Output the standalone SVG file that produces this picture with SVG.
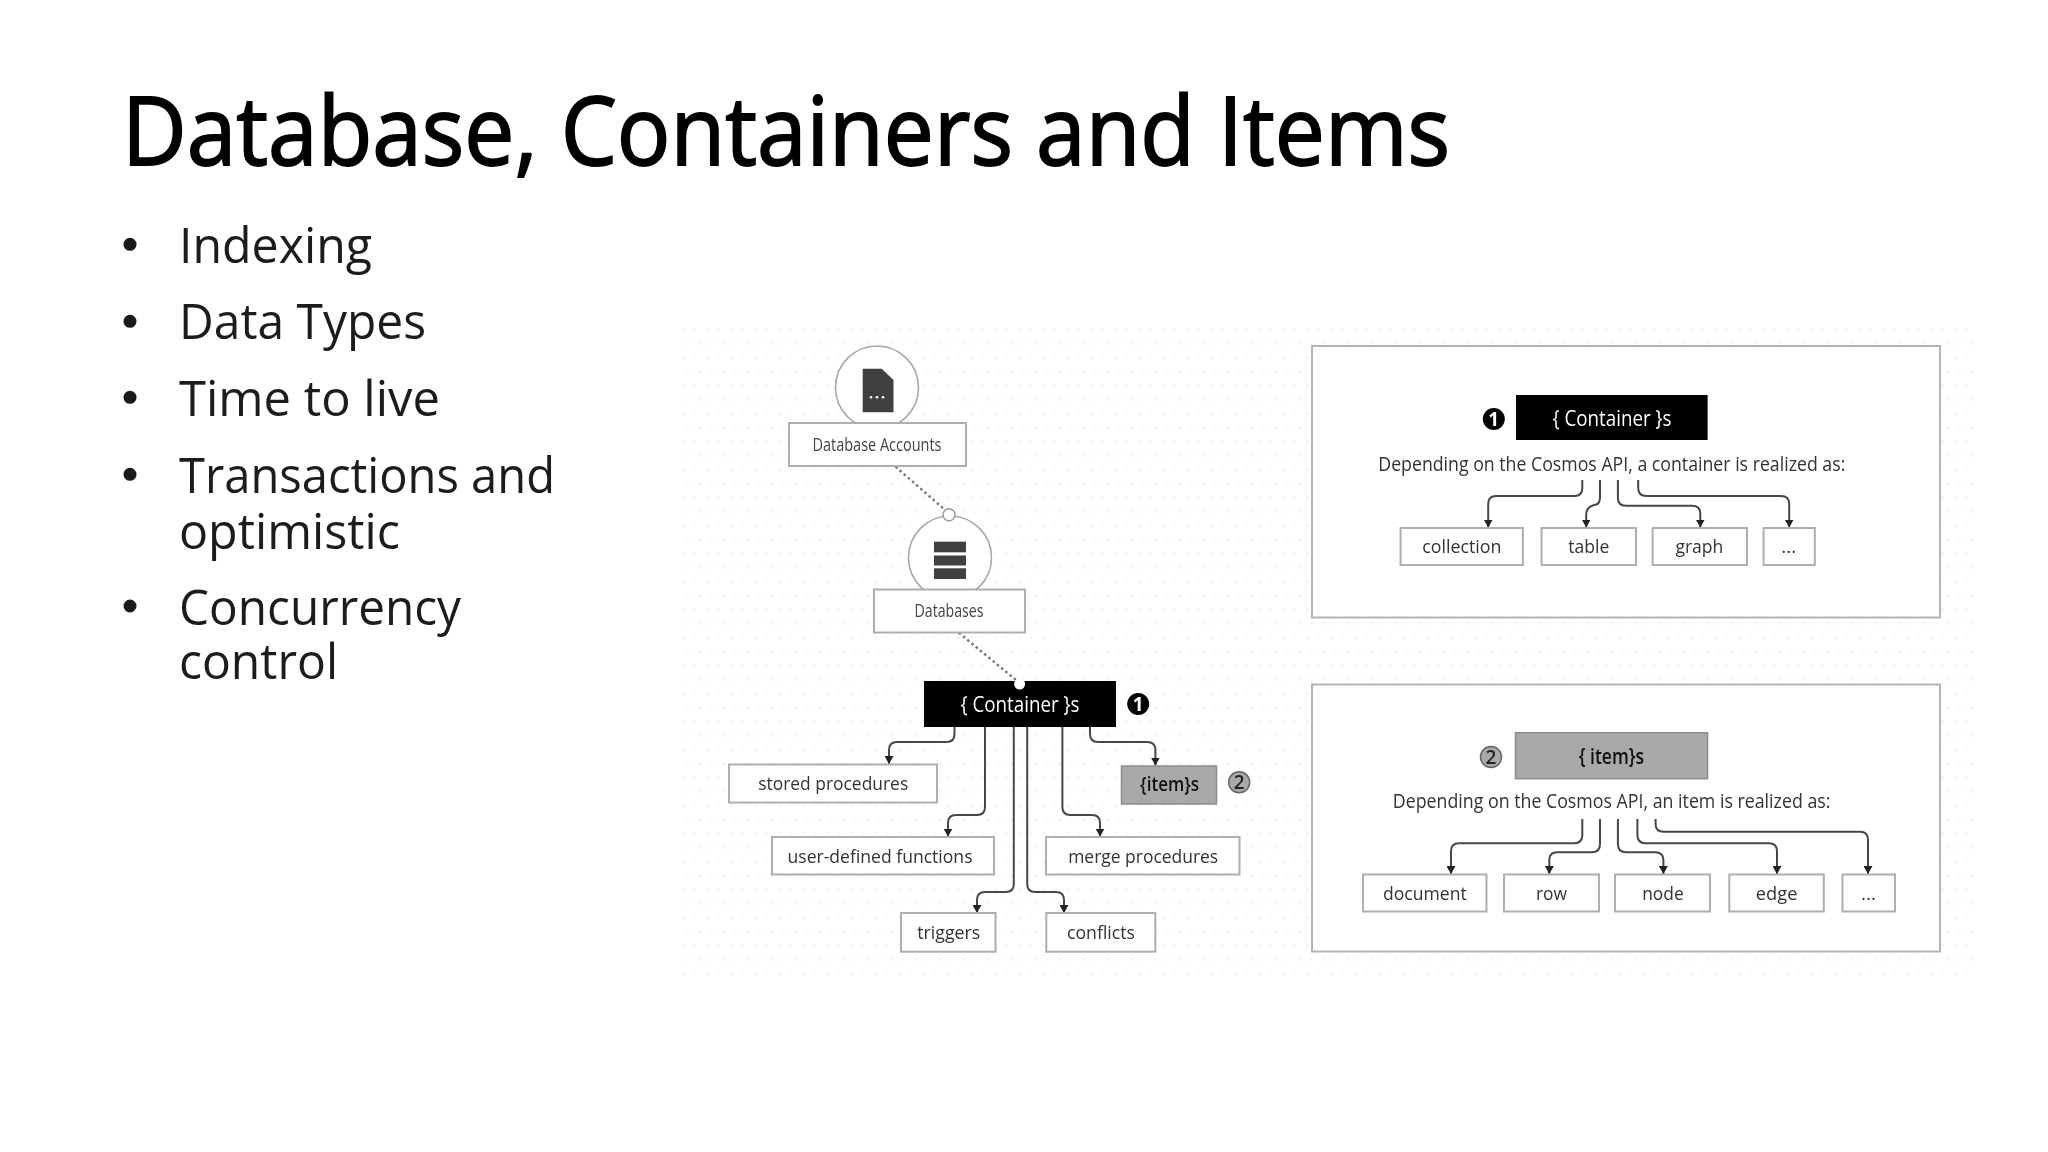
<svg xmlns="http://www.w3.org/2000/svg" width="2048" height="1152" viewBox="0 0 2048 1152">
<style>
text{font-family:"Open Sans","Noto Sans","DejaVu Sans",sans-serif}
.title{font-size:96px;fill:#000;stroke:#000;stroke-width:1.8px}
.bul{font-size:50px;fill:#1c1c1c;font-weight:400}
.lab{font-size:19px;fill:#333;text-anchor:middle}
.tiny{font-size:18px;fill:#444;text-anchor:middle;font-weight:500}
.head{font-size:22px;fill:#fff;text-anchor:middle}
.headd{font-size:21px;fill:#111;text-anchor:middle;font-weight:600}
.desc{font-size:20px;fill:#333;text-anchor:middle}
.box{fill:#fff;stroke:#aeaeae;stroke-width:2}
.panel{fill:#fff;stroke:#b4b4b4;stroke-width:2}
.ring{fill:#fff;stroke:#a8a8a8;stroke-width:1.6}
.black{fill:#000}
.gray{fill:#a9a9a9;stroke:#8c8c8c;stroke-width:1.5}
.icon{fill:#3f3f3f}
.edge{fill:none;stroke:#474747;stroke-width:2;marker-end:url(#arrow)}
.dash{fill:none;stroke:#777;stroke-width:2.4;stroke-dasharray:2.5 3}
.pt{fill:#fff;stroke:#999;stroke-width:1.5}
.b1{fill:#000}
.b1t{font-size:19px;font-weight:700;fill:#fff;text-anchor:middle}
.b2{fill:#a9a9a9;stroke:#666;stroke-width:1.5}
.b2t{font-size:19px;font-weight:600;fill:#222;text-anchor:middle}
</style>
<defs>
<marker id="arrow" viewBox="0 0 8 9" refX="8" refY="4.5" markerWidth="8" markerHeight="9" markerUnits="userSpaceOnUse" orient="auto"><path d="M0 0L8 4.5L0 9z" fill="#222"/></marker>
<pattern id="dots" width="24" height="28" patternUnits="userSpaceOnUse" x="680" y="325"><rect x="2" y="3" width="3" height="3" fill="#f6f6f6"/><rect x="13" y="3" width="3" height="3" fill="#f8f8f8"/><rect x="6" y="17" width="3" height="3" fill="#f8f8f8"/><rect x="18" y="17" width="3" height="3" fill="#f6f6f6"/></pattern>
<filter id="soft" x="0" y="0" width="100%" height="100%"><feGaussianBlur stdDeviation="0.55"/></filter>
</defs>
<rect width="2048" height="1152" fill="#fff"/>
<text class="title" x="122" y="165" textLength="1328" lengthAdjust="spacingAndGlyphs">Database, Containers and Items</text>
<g id="bullets">
<circle cx="130" cy="244.3" r="6.5" fill="#1a1a1a"/><text class="bul" x="179" y="263.3" textLength="193" lengthAdjust="spacingAndGlyphs">Indexing</text>
<circle cx="130" cy="321.3" r="6.5" fill="#1a1a1a"/><text class="bul" x="179" y="339.3" textLength="247" lengthAdjust="spacingAndGlyphs">Data Types</text>
<circle cx="130" cy="397.3" r="6.5" fill="#1a1a1a"/><text class="bul" x="179" y="416" textLength="261" lengthAdjust="spacingAndGlyphs">Time to live</text>
<circle cx="130" cy="474.3" r="6.5" fill="#1a1a1a"/><text class="bul" x="179" y="493" textLength="376" lengthAdjust="spacingAndGlyphs">Transactions and</text>
<text class="bul" x="179" y="548.7" textLength="221" lengthAdjust="spacingAndGlyphs">optimistic</text>
<circle cx="130" cy="606" r="6.5" fill="#1a1a1a"/><text class="bul" x="179" y="625" textLength="282" lengthAdjust="spacingAndGlyphs">Concurrency</text>
<text class="bul" x="179" y="678.7" textLength="159" lengthAdjust="spacingAndGlyphs">control</text>
</g>
<g filter="url(#soft)">
<rect x="680" y="325" width="1296" height="652" fill="url(#dots)"/>
<rect class="panel" x="1312" y="346" width="628" height="271.500"/>
<rect class="panel" x="1312" y="684.500" width="628" height="267"/>
<g id="connectors">
<path class="dash" d="M895.5 466.7L944 509"/>
<path class="dash" d="M958.8 632.7L1016 680"/>
<path class="edge" d="M954.5 727V734Q954.5 742 946.5 742H897Q889 742 889 750V764"/>
<path class="edge" d="M985 727V807Q985 815 977 815H956Q948 815 948 823V836.5"/>
<path class="edge" d="M1013.8 727V884Q1013.8 892 1005.8 892H985Q977 892 977 900V913"/>
<path class="edge" d="M1027.2 727V884Q1027.2 892 1035.2 892H1056Q1064 892 1064 900V913"/>
<path class="edge" d="M1062.4 727V807Q1062.4 815 1070.4 815H1092Q1100 815 1100 823V836.5"/>
<path class="edge" d="M1090 727V734Q1090 742 1098 742H1147Q1155.4 742 1155.4 750V765.5"/>
<path class="edge" d="M1582.3 480V488Q1582.3 496 1574.3 496H1496Q1488.2 496 1488.2 504V527.5"/>
<path class="edge" d="M1600 480V497Q1600 505 1594 505Q1586.2 507 1586.2 515V527.5"/>
<path class="edge" d="M1617.9 480V498Q1617.9 505.7 1625.9 505.7H1692Q1700.3 505.7 1700.3 514V527.5"/>
<path class="edge" d="M1638.2 480V488Q1638.2 496 1646.2 496H1781Q1789.2 496 1789.2 504V527.5"/>
<path class="edge" d="M1582.3 819V835Q1582.3 843.3 1574.3 843.3H1459Q1451 843.3 1451 851V874"/>
<path class="edge" d="M1600 819V844Q1600 852.3 1592 852.3H1557Q1549.3 852.3 1549.3 860V874"/>
<path class="edge" d="M1617.9 819V844Q1617.9 852.3 1625.9 852.3H1655Q1663.4 852.3 1663.4 860V874"/>
<path class="edge" d="M1637.4 819V835Q1637.4 843.3 1645.4 843.3H1769Q1777 843.3 1777 851V874"/>
<path class="edge" d="M1655.6 819V824Q1655.6 831.7 1663.6 831.7H1860Q1868 831.7 1868 840V874"/>
</g>
<g id="n-accounts"><circle class="ring" cx="877" cy="387.5" r="41.5"/><path class="icon" d="M862.7 368.7H881.7L893.5 380V412.3H862.7z"/><circle cx="871" cy="397.3" r="1.3" fill="#fff"/><circle cx="877" cy="397.3" r="1.3" fill="#fff"/><circle cx="883" cy="397.3" r="1.3" fill="#fff"/><rect class="box" x="789" y="423" width="177" height="43"/><text class="tiny" x="877" y="450.7" textLength="129" lengthAdjust="spacingAndGlyphs">Database Accounts</text></g>
<g id="n-databases"><circle class="ring" cx="950" cy="557.5" r="41.5"/><rect class="icon" x="934" y="541.7" width="32" height="10.6"/><rect class="icon" x="934" y="555.5" width="32" height="10"/><rect class="icon" x="934" y="568.3" width="32" height="10.7"/><rect class="box" x="874" y="589.5" width="151" height="43"/><text class="tiny" x="949" y="616.7" textLength="69" lengthAdjust="spacingAndGlyphs">Databases</text><circle class="pt" cx="949" cy="514.7" r="6"/></g>
<g id="n-container"><rect class="black" x="924" y="681" width="192" height="46"/><text class="head" x="1020" y="711.7" textLength="119" lengthAdjust="spacingAndGlyphs">{ Container }s</text><circle class="pt" cx="1019.6" cy="684" r="5.5" style="stroke:none"/><circle class="b1" cx="1138.2" cy="704" r="11"/><text class="b1t" x="1138.2" y="710.5">1</text></g>
<g id="n-stored"><rect class="box" x="729" y="764.5" width="208" height="38"/><text class="lab" x="833.2" y="790" textLength="150" lengthAdjust="spacingAndGlyphs">stored procedures</text></g>
<g id="n-udf"><rect class="box" x="772" y="837" width="222" height="37.5"/><text class="lab" x="880" y="862.7" textLength="185" lengthAdjust="spacingAndGlyphs">user-defined functions</text></g>
<g id="n-merge"><rect class="box" x="1046" y="837" width="193.500" height="37.5"/><text class="lab" x="1143.2" y="862.7" textLength="150" lengthAdjust="spacingAndGlyphs">merge procedures</text></g>
<g id="n-triggers"><rect class="box" x="901" y="913" width="94.500" height="38.700"/><text class="lab" x="948.8" y="939.3" textLength="63" lengthAdjust="spacingAndGlyphs">triggers</text></g>
<g id="n-conflicts"><rect class="box" x="1046.300" y="913" width="109" height="38.700"/><text class="lab" x="1101" y="939.3" textLength="68" lengthAdjust="spacingAndGlyphs">conflicts</text></g>
<g id="n-items"><rect class="gray" x="1121.500" y="766" width="95" height="38"/><text class="headd" x="1169.6" y="791" textLength="59" lengthAdjust="spacingAndGlyphs" style="font-size:20px">{item}s</text><circle class="b2" cx="1239.2" cy="782.3" r="10.500"/><text class="b2t" x="1239.2" y="789">2</text></g>
<g id="n-top-head"><circle class="b1" cx="1493.8" cy="419" r="11"/><text class="b1t" x="1493.8" y="425.5">1</text><rect class="black" x="1516" y="395" width="191.600" height="45"/><text class="head" x="1612" y="426" textLength="119" lengthAdjust="spacingAndGlyphs">{ Container }s</text></g>
<text class="desc" x="1611.800" y="470.7" textLength="467" lengthAdjust="spacingAndGlyphs">Depending on the Cosmos API, a container is realized as:</text>
<g id="n-collection"><rect class="box" x="1400.600" y="528" width="122.300" height="37"/><text class="lab" x="1461.800" y="552.7" textLength="79" lengthAdjust="spacingAndGlyphs">collection</text></g>
<g id="n-table"><rect class="box" x="1541.500" y="528" width="94.500" height="37"/><text class="lab" x="1588.800" y="552.7" textLength="41" lengthAdjust="spacingAndGlyphs">table</text></g>
<g id="n-graph"><rect class="box" x="1652.600" y="528" width="94.400" height="37"/><text class="lab" x="1699.400" y="552.7" textLength="48" lengthAdjust="spacingAndGlyphs">graph</text></g>
<g id="n-more1"><rect class="box" x="1763.600" y="528" width="51.200" height="37"/><text class="lab" x="1788.700" y="552.700">...</text></g>
<g id="n-bottom-head"><circle class="b2" cx="1491" cy="757" r="10.500"/><text class="b2t" x="1491" y="763.500">2</text><rect class="gray" x="1515.500" y="732.700" width="192" height="46"/><text class="headd" x="1611.400" y="764" textLength="65.500" lengthAdjust="spacingAndGlyphs">{ item}s</text></g>
<text class="desc" x="1611.600" y="808.300" textLength="437.600" lengthAdjust="spacingAndGlyphs">Depending on the Cosmos API, an item is realized as:</text>
<g id="n-document"><rect class="box" x="1363" y="874.500" width="123.500" height="37"/><text class="lab" x="1424.900" y="900.300" textLength="83.700" lengthAdjust="spacingAndGlyphs">document</text></g>
<g id="n-row"><rect class="box" x="1504" y="874.500" width="95" height="37"/><text class="lab" x="1551.500" y="900.300" textLength="31" lengthAdjust="spacingAndGlyphs">row</text></g>
<g id="n-node"><rect class="box" x="1615" y="874.500" width="95" height="37"/><text class="lab" x="1663" y="900.300" textLength="41.600" lengthAdjust="spacingAndGlyphs">node</text></g>
<g id="n-edge"><rect class="box" x="1729.300" y="874.500" width="94.500" height="37"/><text class="lab" x="1776.600" y="900.300" textLength="41.600" lengthAdjust="spacingAndGlyphs">edge</text></g>
<g id="n-more2"><rect class="box" x="1842.500" y="874.500" width="52.500" height="37"/><text class="lab" x="1868.500" y="900.300">...</text></g>
</g>
</svg>
